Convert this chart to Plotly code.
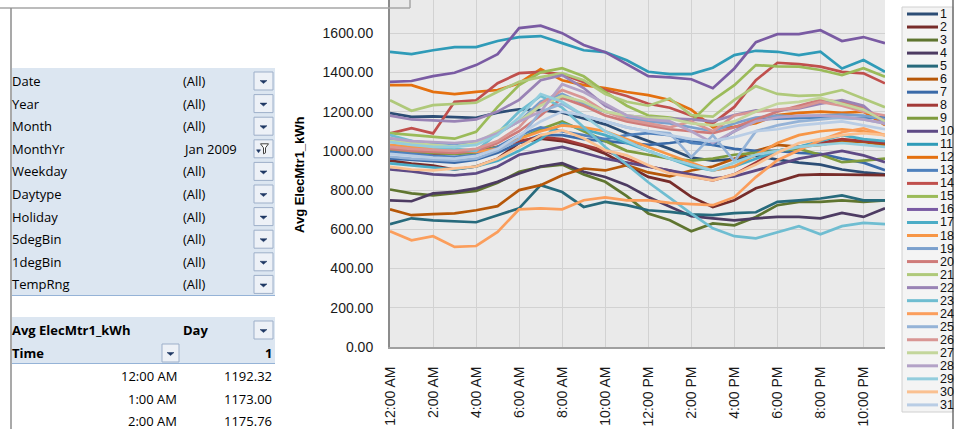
import plotly.graph_objects as go

# ---------------- data ----------------
times = ["12:00 AM"] + [f"{h}:00 AM" for h in range(1, 12)] + ["12:00 PM"] + [f"{h}:00 PM" for h in range(1, 12)]

series_names = [str(i) for i in range(1, 32)]

s1 = [1192.32, 1173.00, 1175.76, 1172, 1168, 1195, 1212, 1208, 1195, 1165, 1135, 1090, 1050, 1010, 965, 950, 958, 975, 955, 940, 930, 905, 890, 880]
s2 = [950, 935, 925, 905, 920, 960, 1040, 1062, 1050, 1025, 985, 925, 867, 842, 765, 714, 748, 809, 842, 876, 880, 878, 876, 876]
s3 = [803, 783, 773, 783, 796, 837, 893, 918, 930, 880, 842, 769, 681, 646, 590, 630, 620, 663, 723, 740, 740, 748, 740, 748]
s4 = [748, 743, 783, 791, 809, 842, 885, 920, 937, 893, 867, 825, 765, 714, 667, 656, 646, 656, 663, 663, 656, 684, 663, 707]
s5 = [626, 656, 646, 641, 636, 672, 707, 825, 790, 714, 740, 723, 697, 689, 676, 672, 682, 687, 740, 748, 757, 773, 748, 748]
s6 = [702, 672, 677, 681, 697, 718, 800, 825, 876, 910, 900, 927, 890, 870, 900, 920, 960, 1000, 1030, 1020, 1030, 1050, 1046, 1029]
s7 = [962, 955, 945, 940, 955, 990, 1040, 1080, 1080, 1060, 1050, 1040, 1030, 1040, 1054, 1030, 1010, 1000, 1000, 990, 985, 960, 940, 901]
s8 = [1000, 990, 985, 990, 1000, 1020, 1050, 1070, 1060, 1030, 1000, 960, 920, 900, 870, 850, 880, 940, 1000, 1020, 1040, 1060, 1050, 1040]
s9 = [1000, 995, 990, 985, 990, 1020, 1060, 1110, 1150, 1100, 1050, 1000, 980, 960, 950, 960, 980, 990, 1000, 1010, 980, 942, 950, 960]
s10 = [905, 895, 880, 875, 885, 920, 980, 1000, 1020, 990, 960, 940, 920, 900, 880, 860, 870, 900, 930, 960, 980, 1000, 977, 942]
s11 = [1505, 1493, 1513, 1529, 1529, 1560, 1580, 1585, 1549, 1513, 1503, 1462, 1403, 1391, 1391, 1424, 1488, 1510, 1505, 1488, 1505, 1420, 1463, 1403]
s12 = [1335, 1335, 1301, 1289, 1301, 1310, 1345, 1417, 1360, 1335, 1320, 1300, 1284, 1259, 1210, 1120, 1122, 1141, 1182, 1194, 1200, 1194, 1200, 1131]
s13 = [995, 985, 975, 970, 980, 1020, 1080, 1120, 1100, 1080, 1060, 1080, 1090, 1080, 1040, 1030, 1100, 1160, 1163, 1165, 1170, 1168, 1165, 1173]
s14 = [1089, 1116, 1089, 1250, 1258, 1345, 1396, 1403, 1390, 1350, 1310, 1280, 1240, 1220, 1180, 1140, 1224, 1360, 1449, 1442, 1429, 1403, 1395, 1344]
s15 = [1090, 1080, 1072, 1062, 1097, 1224, 1335, 1400, 1421, 1380, 1300, 1230, 1180, 1170, 1150, 1258, 1335, 1437, 1431, 1429, 1412, 1386, 1421, 1378]
s16 = [1352, 1356, 1381, 1398, 1437, 1493, 1626, 1638, 1600, 1540, 1503, 1440, 1381, 1375, 1365, 1319, 1420, 1554, 1595, 1595, 1615, 1560, 1580, 1549]
s17 = [936, 925, 915, 905, 920, 950, 1000, 1060, 1140, 1110, 1080, 1040, 1000, 960, 920, 900, 920, 960, 1000, 1020, 1050, 1080, 1060, 1050]
s18 = [1030, 1020, 1010, 1000, 995, 1010, 1060, 1100, 1130, 1120, 1100, 1060, 1020, 980, 940, 900, 920, 980, 1040, 1080, 1100, 1110, 1100, 1080]
s19 = [1060, 1050, 1040, 1035, 1045, 1090, 1150, 1250, 1290, 1240, 1200, 1170, 1150, 1140, 1120, 1100, 1140, 1170, 1180, 1175, 1180, 1185, 1180, 1160]
s20 = [1010, 1000, 995, 990, 1000, 1040, 1100, 1180, 1270, 1230, 1180, 1150, 1130, 1110, 1100, 1090, 1120, 1160, 1200, 1230, 1260, 1250, 1220, 1150]
s21 = [1258, 1204, 1233, 1238, 1245, 1301, 1352, 1376, 1396, 1360, 1290, 1250, 1230, 1267, 1182, 1174, 1260, 1330, 1290, 1280, 1284, 1310, 1267, 1222]
s22 = [1180, 1160, 1155, 1150, 1160, 1200, 1260, 1360, 1386, 1320, 1230, 1180, 1170, 1165, 1160, 1150, 1182, 1207, 1207, 1216, 1240, 1258, 1230, 1135]
s23 = [1080, 1050, 1020, 1010, 1000, 1090, 1200, 1280, 1220, 1120, 1020, 930, 840, 760, 680, 605, 565, 554, 587, 616, 575, 616, 633, 626]
s24 = [590, 544, 565, 510, 515, 587, 702, 707, 702, 748, 763, 748, 748, 735, 728, 723, 764, 866, 952, 1003, 1054, 1095, 1115, 1080]
s25 = [970, 960, 955, 950, 960, 1000, 1060, 1200, 1240, 1180, 1150, 1120, 1100, 1090, 968, 1080, 947, 1100, 1130, 1150, 1160, 1170, 1160, 1140]
s26 = [1020, 1010, 1005, 1000, 1010, 1050, 1120, 1240, 1310, 1270, 1200, 1160, 1140, 1120, 1150, 1100, 1180, 1200, 1210, 1220, 1250, 1230, 1200, 1180]
s27 = [1050, 1040, 1030, 1020, 1040, 1100, 1150, 1230, 1280, 1250, 1200, 1180, 1170, 1165, 1140, 1130, 1150, 1200, 1240, 1250, 1270, 1240, 1210, 1150]
s28 = [1065, 1050, 1045, 1040, 1050, 1090, 1150, 1200, 1340, 1300, 1240, 1180, 1160, 1150, 1100, 1040, 1100, 1150, 1170, 1180, 1180, 1175, 1160, 1140]
s29 = [1045, 1030, 1020, 1020, 1030, 1080, 1170, 1290, 1250, 1180, 1100, 1050, 1000, 960, 930, 900, 940, 980, 1000, 1020, 1030, 1040, 1030, 1020]
s30 = [918, 905, 900, 910, 920, 960, 1020, 1080, 1105, 1064, 1003, 977, 927, 885, 867, 850, 880, 930, 990, 1040, 1060, 1080, 1090, 1080]
s31 = [985, 975, 965, 960, 975, 1010, 1080, 1150, 1200, 1180, 1150, 1120, 1100, 1080, 1060, 1050, 1070, 1100, 1110, 1130, 1140, 1150, 1130, 1110]

all_series = [s1, s2, s3, s4, s5, s6, s7, s8, s9, s10, s11, s12, s13, s14, s15, s16,
              s17, s18, s19, s20, s21, s22, s23, s24, s25, s26, s27, s28, s29, s30, s31]

filter_fields = ["Date", "Year", "Month", "MonthYr", "Weekday", "Daytype", "Holiday", "5degBin", "1degBin", "TempRng"]
filter_values = ["(All)", "(All)", "(All)", "Jan 2009", "(All)", "(All)", "(All)", "(All)", "(All)", "(All)"]

colors = ["#2C4D75", "#772C2A", "#5F7530", "#4D3B62", "#276A7C", "#B65708",
          "#3A6AA8", "#A33A38", "#7E9B3E", "#5E4A85", "#2F9BB8", "#E4700F",
          "#4F81BD", "#C0504D", "#9BBB59", "#7A5BA3", "#4BACC6", "#F79646",
          "#7BA0CD", "#CF7B79", "#AFC97A", "#9983B5", "#6FBDD1", "#FB9E5C",
          "#95B3D7", "#D99694", "#C3D69B", "#B3A2C7", "#93CDDD", "#FAC090", "#B9CDE5"]

# ---------------- geometry helpers (pixel -> paper) ----------------
FW, FH = 957, 429
L, Rm, T, Bm = 390, 72, 0, 82
PW, PH = FW - L - Rm, FH - T - Bm


def px(x):
    return (x - L) / PW


def py(y):
    return (T + PH - y) / PH


fig = go.Figure()
for name, vals, col in zip(series_names, all_series, colors):
    fig.add_trace(go.Scatter(x=times, y=vals, mode="lines", name=name,
                             line=dict(color=col, width=2.7), showlegend=False))

shapes = []
annots = []

TXT = dict(family="Open Sans, Noto Sans, sans-serif", size=13, color="#000000")
TXTB = dict(family="Open Sans, Noto Sans, sans-serif", size=13, color="#000000", weight="bold")


def rect(x0, y0, x1, y1, fill=None, line=None, lw=1):
    shapes.append(dict(type="rect", xref="paper", yref="paper",
                       x0=px(x0), x1=px(x1), y0=py(y0), y1=py(y1),
                       fillcolor=fill or "rgba(0,0,0,0)",
                       line=dict(color=line or "rgba(0,0,0,0)", width=lw if line else 0),
                       layer="above"))


def line(x0, y0, x1, y1, color, w):
    shapes.append(dict(type="line", xref="paper", yref="paper",
                       x0=px(x0), x1=px(x1), y0=py(y0), y1=py(y1),
                       line=dict(color=color, width=w), layer="above"))


def text(x, y, s, font, anchor="left"):
    annots.append(dict(xref="paper", yref="paper", x=px(x), y=py(y), text=s,
                       showarrow=False, xanchor=anchor, yanchor="middle", font=font,
                       borderpad=0))


def button(x0, cy, w=19, filt=False):
    rect(x0, cy - 9, x0 + w, cy + 9, fill="#EDF1F7", line="#9DAFC9", lw=1)
    cx = x0 + w / 2
    if not filt:
        path = f"M {px(cx-3.5)} {py(cy-0.5)} L {px(cx+3.5)} {py(cy-0.5)} L {px(cx)} {py(cy+2.5)} Z"
        shapes.append(dict(type="path", xref="paper", yref="paper", path=path,
                           fillcolor="#1F3864", line=dict(color="#1F3864", width=0.5), layer="above"))
    else:
        path = (f"M {px(cx-3)} {py(cy-5)} L {px(cx+5)} {py(cy-5)} L {px(cx+2)} {py(cy-1)} "
                f"L {px(cx+2)} {py(cy+4)} L {px(cx)} {py(cy+5)} L {px(cx)} {py(cy-1)} Z")
        shapes.append(dict(type="path", xref="paper", yref="paper", path=path,
                           fillcolor="#FFFFFF", line=dict(color="#404040", width=1), layer="above"))
        arrow = f"M {px(cx-7)} {py(cy+1)} L {px(cx-3)} {py(cy+1)} L {px(cx-5)} {py(cy+4)} Z"
        shapes.append(dict(type="path", xref="paper", yref="paper", path=arrow,
                           fillcolor="#1F3864", line=dict(color="#1F3864", width=0.5), layer="above"))


# top-left frame
line(0, 8, 410, 8, "#A6A6A6", 1.5)
line(410, 0, 410, 8, "#A6A6A6", 1.5)
line(11, 8, 11, 429, "#8C8C8C", 1.5)

# filter area
row0, rowstep = 81, 22.6
rect(12, 68, 275, 295, fill="#DCE6F1")
line(12, 295.5, 275, 295.5, "#95B3D7", 1)
for i, (f, v) in enumerate(zip(filter_fields, filter_values)):
    cy = row0 + i * rowstep
    text(11, cy, f, TXT)
    text(182, cy, v, TXT)
    button(254, cy, filt=(f == "MonthYr"))

# pivot header
rect(12, 317, 275, 363, fill="#DCE6F1")
line(12, 363.5, 275, 363.5, "#95B3D7", 1)
text(11, 330, "Avg ElecMtr1_kWh", TXTB)
text(182, 330, "Day", TXTB)
button(254, 330)
text(11, 353, "Time", TXTB)
button(162, 353, w=17)
text(273, 353, series_names[0], TXTB, anchor="right")
for i in range(3):
    cy = 376 + i * 22.6
    text(178, cy, times[i], TXT, anchor="right")
    text(273, cy, f"{all_series[0][i]:.2f}", TXT, anchor="right")

# y-axis title
annots.append(dict(xref="paper", yref="paper", x=px(299), y=py(175), text="Avg ElecMtr1_kWh",
                   textangle=-90, showarrow=False, xanchor="center", yanchor="middle",
                   font=dict(family="Liberation Sans, Arial, sans-serif", size=13, color="#000", weight="bold")))

# legend (manual)
rect(902, 7, 953, 412, fill="#F4F4F4", line="#D0D0D0", lw=1)
line(953, 0, 953, 429, "#6E6E6E", 1.5)
for i, (name, col) in enumerate(zip(series_names, colors)):
    cy = 14 + i * 13.03
    line(907, cy, 938, cy, col, 3)
    text(939, cy, name, dict(family="Liberation Sans, Arial, sans-serif", size=12.5, color="#111"))

fig.update_layout(
    width=FW, height=FH,
    margin=dict(l=L, r=Rm, t=T, b=Bm, pad=0),
    paper_bgcolor="white",
    plot_bgcolor="#EAEAEA",
    shapes=shapes,
    annotations=annots,
    showlegend=False,
)
fig.update_xaxes(type="category", range=[0, 23], tickmode="array",
                 tickvals=times[::2], ticktext=times[::2], tickangle=-90,
                 showgrid=True, gridcolor="#D2D2D2", gridwidth=1,
                 showline=True, linecolor="#A0A0A0", linewidth=2, ticks="",
                 ticklabelstandoff=12,
                 tickfont=dict(family="Liberation Sans, Arial, sans-serif", size=14, color="#1a1a1a"),
                 zeroline=False)
fig.update_yaxes(range=[0, 1769], dtick=200, tick0=0, tickformat=".2f",
                 showgrid=True, gridcolor="#D2D2D2", gridwidth=1,
                 showline=True, linecolor="#8C8C8C", linewidth=2, ticks="",
                 ticklabelstandoff=12,
                 tickfont=dict(family="Liberation Sans, Arial, sans-serif", size=14, color="#1a1a1a"),
                 zeroline=False)

fig.write_html("out.html",
               config={"displayModeBar": False, "staticPlot": True},
               post_script="document.body.style.margin='0px';document.body.style.overflow='hidden';")
